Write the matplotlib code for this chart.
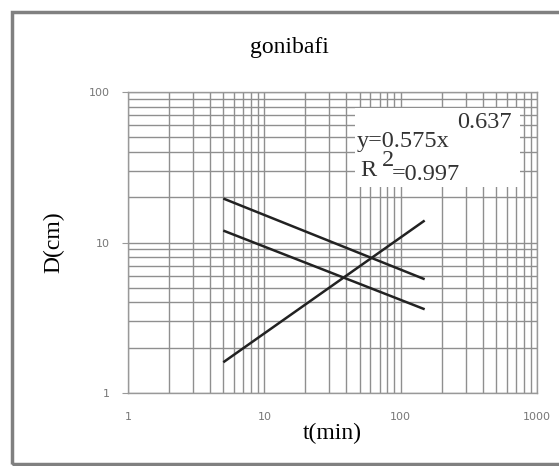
import matplotlib
matplotlib.use('Agg')
import matplotlib.pyplot as plt
from matplotlib.patches import Rectangle
from matplotlib.ticker import LogLocator, FixedLocator, NullFormatter

# values
t_min = [5, 150]
d_upper = [19.6, 5.7]
d_lower = [12.0, 3.6]
d_rising = [1.6, 14.0]
x_ticks = [1, 10, 100, 1000]
x_labels = ['1', '10', '100', '1000']
y_ticks = [1, 10, 100]
y_labels = ['1', '10', '100']

fig = plt.figure(figsize=(5.59, 4.66), dpi=100)
ax = fig.add_axes([128 / 559, 1 - 393 / 466, (537 - 128) / 559, (393 - 92) / 466])

# outer chart frame
fig.patches.append(Rectangle((12 / 559, 2 / 466), 1.0, (464 - 12) / 466,
                             transform=fig.transFigure, fill=False,
                             edgecolor='#808080', linewidth=2.5))

for d in [d_upper, d_lower, d_rising]:
    ax.plot(t_min, d, color='#222222', linewidth=1.8, solid_capstyle='butt')

ax.set_xscale('log')
ax.set_yscale('log')
ax.set_xlim(1, 1000)
ax.set_ylim(1, 100)
ax.xaxis.set_major_locator(FixedLocator(x_ticks))
ax.yaxis.set_major_locator(FixedLocator(y_ticks))
ax.xaxis.set_minor_locator(LogLocator(base=10, subs=range(2, 10)))
ax.yaxis.set_minor_locator(LogLocator(base=10, subs=range(2, 10)))
ax.xaxis.set_minor_formatter(NullFormatter())
ax.yaxis.set_minor_formatter(NullFormatter())
ax.set_xticklabels(x_labels, fontsize=8, color='#777777', family='DejaVu Sans')
ax.set_yticklabels(y_labels, fontsize=8, color='#777777', family='DejaVu Sans')
ax.tick_params(which='major', direction='out', length=4, color='#999999', pad=9)
ax.tick_params(axis='x', which='major', length=0, pad=14)
ax.tick_params(which='minor', length=0)
ax.grid(True, which='both', color='#8f8f8f', linewidth=1.0)
ax.set_axisbelow(True)
for s in ax.spines.values():
    s.set_color('#999999')
    s.set_linewidth(1.0)

ax.set_xlabel('t(min)', fontsize=17, family='Liberation Serif', labelpad=0)
ax.set_ylabel('D(cm)', fontsize=17, family='Liberation Serif', labelpad=18)
fig.text(289 / 559, 1 - 47 / 466, 'gonibafi', ha='center', va='center',
         fontsize=17, family='Liberation Serif')

# trend line equation box
fig.patches.append(Rectangle((355 / 559, 1 - 187 / 466), 165 / 559, 79 / 466,
                             transform=fig.transFigure, facecolor='white',
                             edgecolor='none', zorder=3))
eq = dict(ha='left', va='center', fontsize=17.5, family='Liberation Serif',
          color='#333333', zorder=4)
fig.text(357 / 559, 1 - 141 / 466, 'y=0.575x', **eq)
fig.text(457 / 559, 1 - 123 / 466, '0.637', **eq)
fig.text(360 / 559, 1 - 170 / 466, 'R', **eq)
fig.text(382 / 559, 1 - 161 / 466, '2', **eq)
fig.text(392 / 559, 1 - 175 / 466, '=0.997', **eq)

fig.savefig('out.png', dpi=100)
